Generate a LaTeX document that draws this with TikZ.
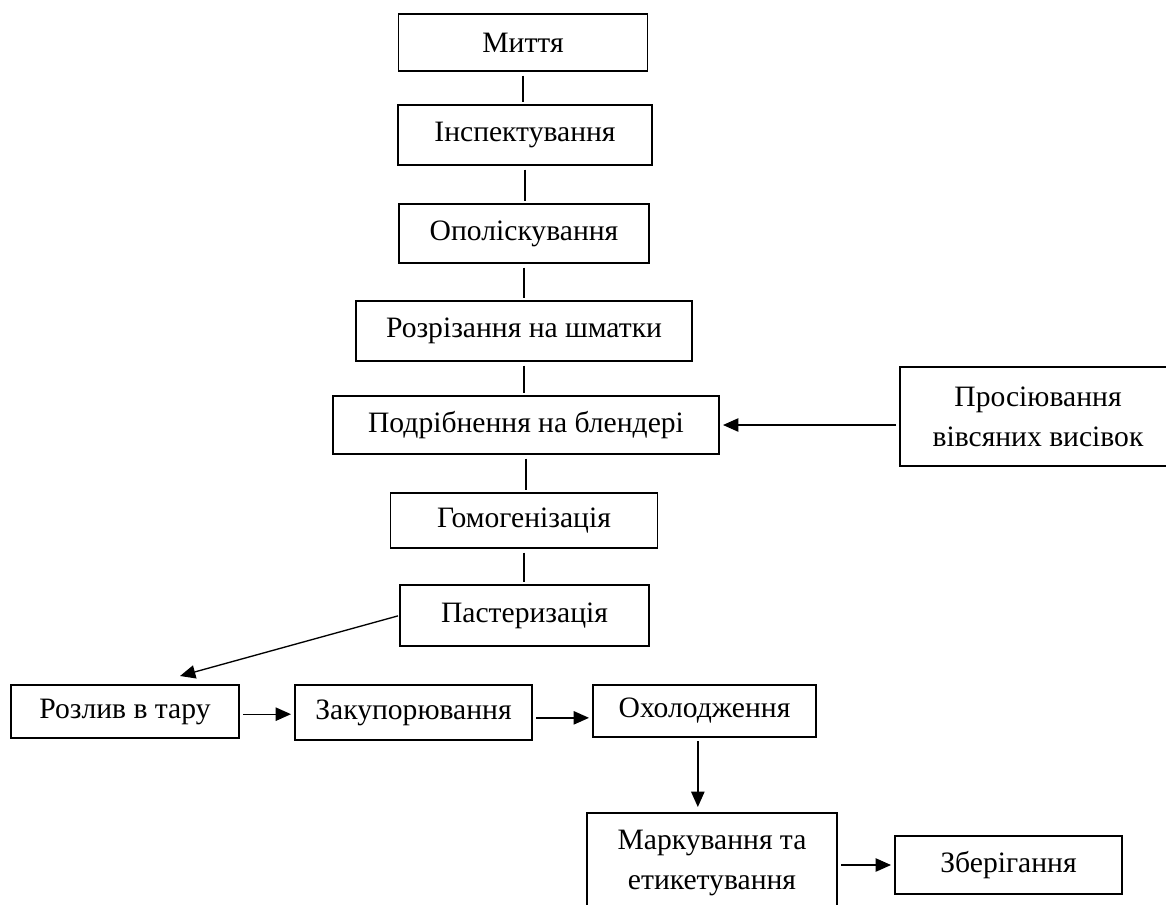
\documentclass[tikz,border=0pt]{standalone}
\usepackage{fontspec}
\setmainfont{Liberation Serif}
\usetikzlibrary{positioning,arrows.meta}

\begin{document}
\begin{tikzpicture}[x=0.75pt, y=-0.75pt, line width=1pt,
    stepbox/.style={draw, inner sep=0pt, align=center, font=\fontsize{22.2}{30}\selectfont},
    link/.style={shorten <=3pt, shorten >=2pt},
    flow/.style={-{Triangle[length=11.5pt,width=10pt]}, shorten <=2.5pt, shorten >=2.5pt}]
    \clip (0,0) rectangle (1166,904);
    \fill[white] (0,0) rectangle (1166,904);

    \node[stepbox, minimum width=186.75pt, minimum height=42.75pt] (wash) at (523,42.5) {Миття};
    \node[stepbox, minimum width=190.5pt, minimum height=45pt] (inspect) at (525,135) {Інспектування};
    \node[stepbox, minimum width=187.5pt, minimum height=44.25pt] (rinse) at (524,233.5) {Ополіскування};
    \node[stepbox, minimum width=252pt, minimum height=45pt] (cut) at (524,331) {Розрізання на шматки};
    \node[stepbox, minimum width=289.5pt, minimum height=43.5pt] (blend) at (526,425) {Подрібнення на блендері};
    \node[stepbox, minimum width=207pt, minimum height=74.25pt] (sieve) at (1038,416.5) {Просіювання\\вівсяних висівок};
    \node[stepbox, minimum width=200.25pt, minimum height=41.25pt] (homog) at (524,520.5) {Гомогенізація};
    \node[stepbox, minimum width=186.75pt, minimum height=45.75pt] (paster) at (524.5,615.5) {Пастеризація};
    \node[stepbox, minimum width=171pt, minimum height=39.75pt] (pour) at (125,711.5) {Розлив в тару};
    \node[stepbox, minimum width=177.75pt, minimum height=41.25pt] (seal) at (413.5,712.5) {Закупорювання};
    \node[stepbox, minimum width=167.25pt, minimum height=39pt] (cool) at (704.5,711) {Охолодження};
    \node[stepbox, minimum width=187.5pt, minimum height=75pt] (label) at (712,863) {Маркування та\\етикетування};
    \node[stepbox, minimum width=170.25pt, minimum height=43.5pt] (store) at (1008.5,865) {Зберігання};
    \coordinate (pourin) at (180,676);

    \draw[link] (wash.south) -- (wash.south |- inspect.north);
    \draw[link] (inspect.south) -- (inspect.south |- rinse.north);
    \draw[link] (rinse.south) -- (rinse.south |- cut.north);
    \draw[link] (cut.south) -- (cut.south |- blend.north);
    \draw[link] (blend.south) -- (blend.south |- homog.north);
    \draw[link] (homog.south) -- (homog.south |- paster.north);
    \draw[flow] (sieve.west |- blend.east) -- (blend.east);
    \draw[flow, shorten <=1pt, shorten >=0pt] (paster.west) -- (pourin);
    \draw[flow] ([yshift=-2]pour.east) -- ([yshift=-2]pour.east -| seal.west);
    \draw[flow] ([yshift=-4]seal.east) -- ([yshift=-4]seal.east -| cool.west);
    \draw[flow, shorten >=4pt] ([xshift=-5]cool.south) -- ([xshift=-5]cool.south |- label.north);
    \draw[flow] (label.east |- store.west) -- (store.west);
\end{tikzpicture}
\end{document}
